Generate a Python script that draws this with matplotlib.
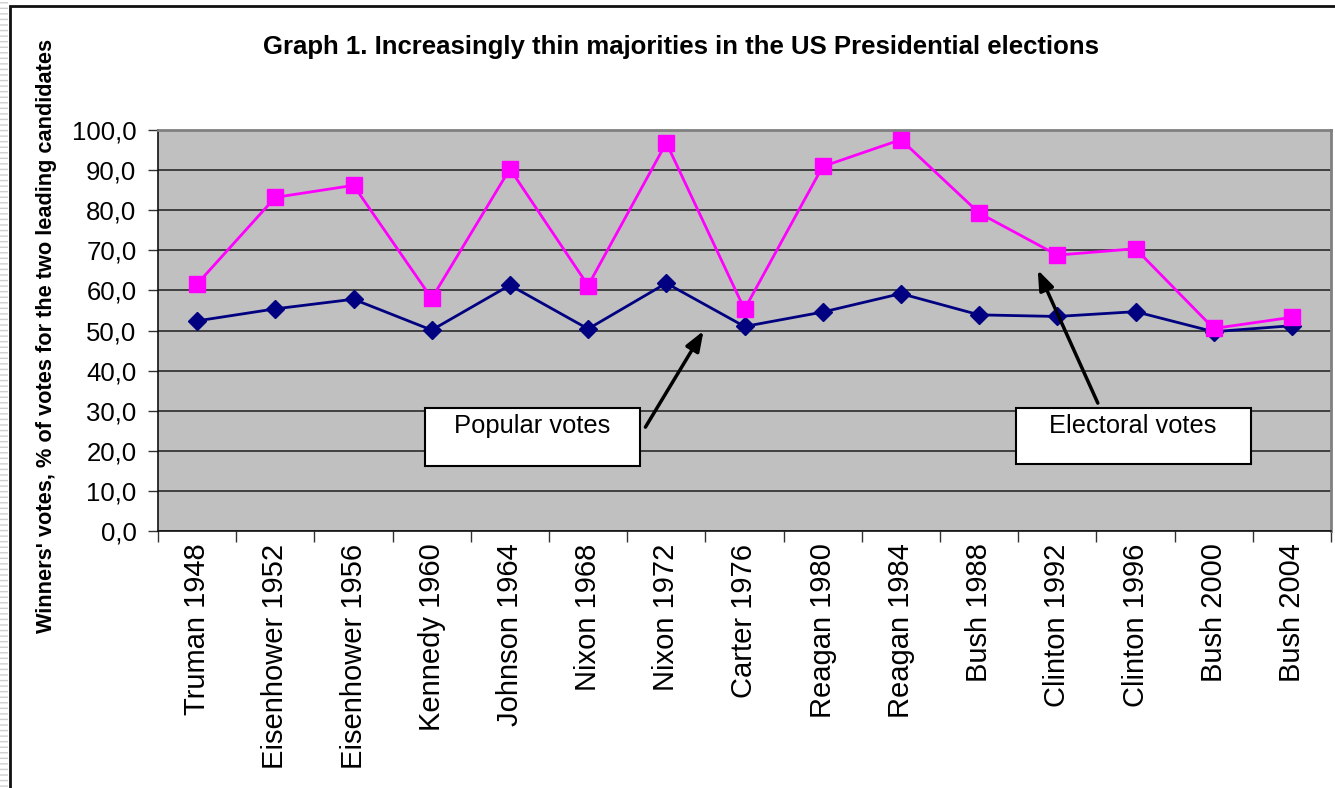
import matplotlib
matplotlib.use("Agg")
import matplotlib.pyplot as plt
from matplotlib.patches import Rectangle
from matplotlib.ticker import FixedLocator, FuncFormatter

plt.rcParams['font.family'] = ['Liberation Sans', 'DejaVu Sans']

categories = ["Truman 1948", "Eisenhower 1952", "Eisenhower 1956", "Kennedy 1960",
              "Johnson 1964", "Nixon 1968", "Nixon 1972", "Carter 1976",
              "Reagan 1980", "Reagan 1984", "Bush 1988", "Clinton 1992",
              "Clinton 1996", "Bush 2000", "Bush 2004"]
popular_votes = [52.4, 55.4, 57.8, 50.1, 61.3, 50.4, 61.8, 51.0,
                 54.6, 59.2, 53.9, 53.5, 54.7, 49.7, 51.2]
electoral_votes = [61.6, 83.2, 86.2, 58.0, 90.3, 61.2, 96.8, 55.3,
                   90.9, 97.6, 79.3, 68.8, 70.4, 50.5, 53.3]
y_ticks = [0, 10, 20, 30, 40, 50, 60, 70, 80, 90, 100]

W, H = 1335, 788
fig = plt.figure(figsize=(W / 100, H / 100), dpi=100)
fig.patch.set_facecolor("white")

# outer frame of the embedded chart
fig.patches.append(Rectangle((10 / W, -0.1), 2.0, 1.1 - 6 / H,
                             transform=fig.transFigure, fill=False,
                             edgecolor="#111111", linewidth=2))
fig.patches.append(Rectangle((0, 0), 8 / W, 1, transform=fig.transFigure,
                             facecolor="white", edgecolor="#cfcfcf",
                             hatch="---", linewidth=0))

left, right, top, bottom = 158, 1331, 130, 531
ax = fig.add_axes([left / W, 1 - bottom / H, (right - left) / W, (bottom - top) / H])
ax.set_facecolor("#C0C0C0")

x = list(range(len(categories)))
ax.plot(x, popular_votes, color="#000080", linewidth=2, marker="D",
        markersize=9, markerfacecolor="#000080", markeredgecolor="#000080", zorder=4)
ax.plot(x, electoral_votes, color="#FF00FF", linewidth=2, marker="s",
        markersize=11, markerfacecolor="#FF00FF", markeredgecolor="#FF00FF", zorder=5)

ax.set_xlim(-0.5, len(categories) - 0.5)
ax.set_ylim(0, 100)
ax.yaxis.set_major_locator(FixedLocator(y_ticks))
ax.yaxis.set_major_formatter(FuncFormatter(lambda v, p: f"{v:.1f}".replace(".", ",")))
ax.grid(axis="y", color="#2a2a2a", linewidth=1.2, zorder=1)
ax.set_axisbelow(True)

ax.set_xticks([i - 0.5 for i in range(len(categories) + 1)])
ax.set_xticklabels([])
ax.set_xticks(x, minor=True)
ax.set_xticklabels(categories, minor=True, rotation=90, fontsize=21,
                   va="top", ha="center")
ax.tick_params(axis="x", which="minor", length=0, pad=9)
ax.tick_params(axis="x", which="major", length=8, width=1, color="#333333")
ax.tick_params(axis="y", which="major", length=7.5, width=1, labelsize=18.5,
               pad=8, color="#333333")

for s in ["top", "right"]:
    ax.spines[s].set_color("#808080")
    ax.spines[s].set_linewidth(2)
for s in ["left", "bottom"]:
    ax.spines[s].set_color("#111111")
    ax.spines[s].set_linewidth(1.2)

# annotation boxes
ax.add_patch(Rectangle((2.917, 16.2), 2.752, 14.5, facecolor="white",
                       edgecolor="black", linewidth=1.5, zorder=6))
ax.text(4.29, 26.2, "Popular votes", ha="center", va="center", fontsize=18.4, zorder=7)
ax.add_patch(Rectangle((10.469, 16.7), 3.008, 14.0, facecolor="white",
                       edgecolor="black", linewidth=1.5, zorder=6))
ax.text(11.97, 26.2, "Electoral votes", ha="center", va="center", fontsize=18.3, zorder=7)

arrow = dict(arrowstyle="-|>,head_length=1.2,head_width=0.45", color="black",
             linewidth=2.5, shrinkA=0, shrinkB=0)
ax.annotate("", xy=(6.476, 49.9), xytext=(5.733, 25.9), arrowprops=arrow, zorder=8)
ax.annotate("", xy=(10.75, 65.1), xytext=(11.518, 31.9), arrowprops=arrow, zorder=8)

fig.text(681 / W, 1 - 47 / H, "Graph 1. Increasingly thin majorities in the US Presidential elections",
         ha="center", va="center", fontsize=18.5, fontweight="bold")
fig.text(47 / W, 1 - 336 / H, "Winners' votes, % of votes for the two leading candidates",
         ha="center", va="center", rotation=90, fontsize=15.7, fontweight="bold")

fig.savefig("out.png", dpi=100)
